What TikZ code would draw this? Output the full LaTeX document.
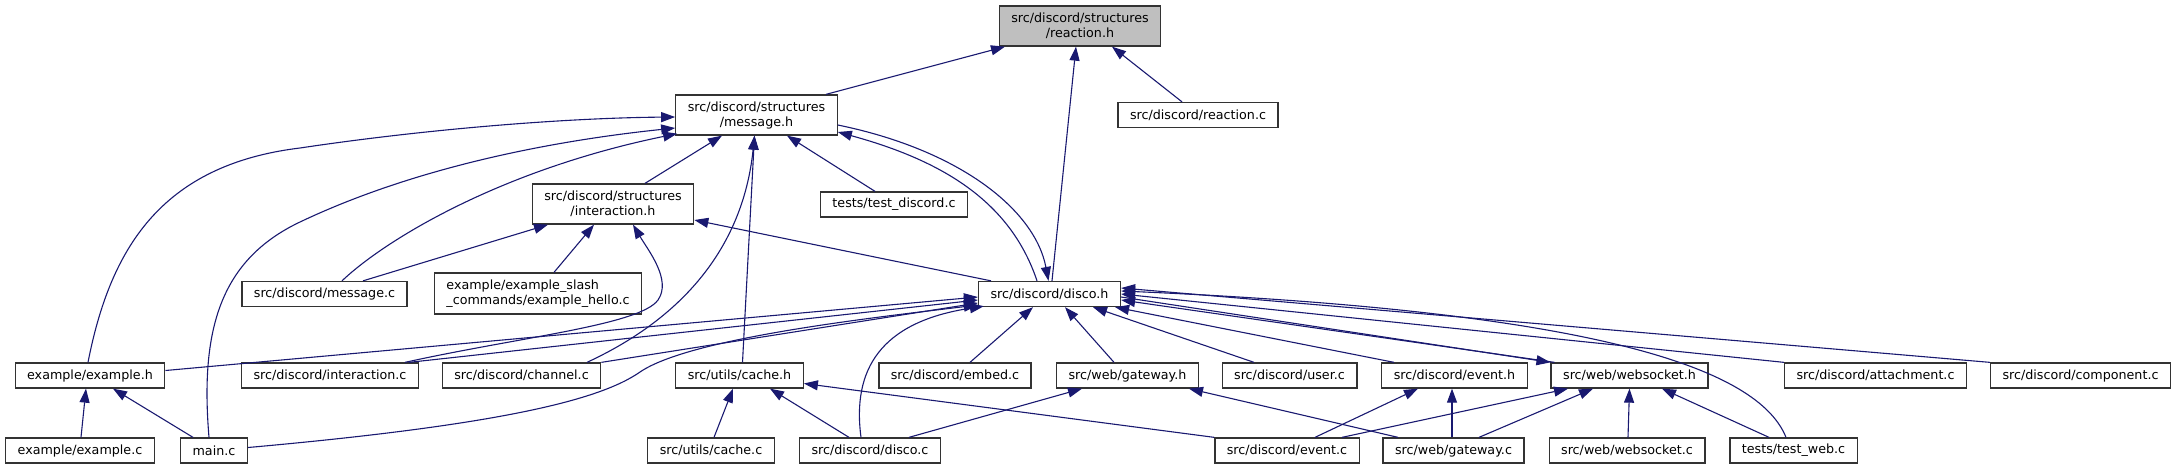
\documentclass[tikz,border=0pt]{standalone}
\usepackage{fontspec}
\setmainfont{DejaVu Sans}
\usetikzlibrary{arrows.meta}
\definecolor{edgeblue}{RGB}{25,25,112}

\begin{document}
\begin{tikzpicture}[
  x=1pt, y=-1pt,
  file/.style={rectangle, draw=black!80, line width=1.3pt, fill=white,
               inner xsep=12pt, inner ysep=0pt, minimum height=25pt,
               font=\fontsize{12.7}{15}\selectfont},
  twoline/.style={minimum height=40pt, align=center},
  root/.style={fill=black!25},
  dep/.style={-{Triangle[length=14pt,width=10pt]}, line width=1.1pt, edgeblue}
]
\useasboundingbox (0,0) rectangle (2176,469);

\node[file, twoline, root] (reach) at (1080,26) {src/discord/structures\\/reaction.h};
\node[file, twoline] (msgh)  at (756.5,115) {src/discord/structures\\/message.h};
\node[file] (reacc) at (1198,115) {src/discord/reaction.c};
\node[file, twoline] (inth)  at (613,204) {src/discord/structures\\/interaction.h};
\node[file] (tdisc) at (894,204.5) {tests/test\_discord.c};
\node[file] (msgc)  at (324.5,294) {src/discord/message.c};
\node[file, minimum height=41pt, align=left] (hello) at (538,293.5) {example/example\_slash\\\_commands/example\_hello.c};
\node[file] (disco) at (1049.5,294) {src/discord/disco.h};

\node[file] (exh)    at (90,375.5)     {example/example.h};
\node[file] (intc)   at (330,375.5)    {src/discord/interaction.c};
\node[file] (chan)   at (521.5,375.5)  {src/discord/channel.c};
\node[file] (cacheh) at (739.5,375.5)  {src/utils/cache.h};
\node[file] (embed)  at (955,375.5)    {src/discord/embed.c};
\node[file] (gwh)    at (1127.5,375.5) {src/web/gateway.h};
\node[file] (user)   at (1289.5,375.5) {src/discord/user.c};
\node[file] (evh)    at (1454.5,375.5) {src/discord/event.h};
\node[file] (wsh)    at (1629.5,375.5) {src/web/websocket.h};
\node[file] (attach) at (1875.5,375.5) {src/discord/attachment.c};
\node[file] (comp)   at (2080.5,375.5) {src/discord/component.c};

\node[file] (exc)    at (80,450.5)     {example/example.c};
\node[file] (mainc)  at (214,450.5)    {main.c};
\node[file] (cachec) at (711,450.5)    {src/utils/cache.c};
\node[file] (discoc) at (870,450.5)    {src/discord/disco.c};
\node[file] (evc)    at (1287,450.5)   {src/discord/event.c};
\node[file] (gwc)    at (1453.5,450.5) {src/web/gateway.c};
\node[file] (wsc)    at (1627,450.5)   {src/web/websocket.c};
\node[file] (tweb)   at (1793.5,450.5) {tests/test\_web.c};

\draw[dep] ([xshift=69.5pt]msgh.north) -- ([xshift=-75pt]reach.south);
\draw[dep] ([xshift=2.5pt]disco.north) -- ([xshift=-4pt]reach.south);
\draw[dep] ([xshift=-16pt]reacc.north) -- ([xshift=32pt]reach.south);

\draw[dep] ([xshift=32pt]inth.north) -- ([xshift=-34.5pt]msgh.south);
\draw[dep] ([xshift=-19pt]tdisc.north) -- ([xshift=30.5pt]msgh.south);
\draw[dep] ([xshift=-2pt]exh.north) .. controls (110,250) and (160,165) .. (300,148)
  .. controls (420,130) and (560,118) .. ([yshift=-2pt]msgh.west);
\draw[dep] ([xshift=-5pt]mainc.north) .. controls (200,330) and (220,260) .. (300,222)
  .. controls (420,165) and (560,140) .. ([yshift=-13pt]msgh.west);
\draw[dep] ([xshift=17.5pt]msgc.north) .. controls (385,240) and (500,170) .. ([xshift=2pt,yshift=2pt]msgh.south west);
\draw[dep] ([xshift=65.5pt]chan.north) .. controls (700,310) and (745,230) .. ([xshift=-2pt]msgh.south);
\draw[dep] ([xshift=3pt]cacheh.north) -- ([xshift=-2pt]msgh.south);
\draw[dep] ([xshift=-12.5pt]disco.north) .. controls (1010,200) and (940,160) .. ([yshift=-17pt]msgh.east);
\draw[dep] ([yshift=-10pt]msgh.east) .. controls (960,150) and (1035,210) .. ([xshift=-1pt]disco.north);

\draw[dep] ([xshift=38.5pt]msgc.north) -- ([xshift=-65pt]inth.south);
\draw[dep] ([xshift=16pt]hello.north) -- ([xshift=-19pt]inth.south);
\draw[dep] ([xshift=75pt]intc.north) .. controls (520,337) and (640,325) .. (658,300)
  .. controls (672,280) and (648,250) .. ([xshift=20pt]inth.south);
\draw[dep] ([xshift=-58.5pt]disco.north) -- ([yshift=-16pt]inth.east);

\draw[dep] ([yshift=5pt]exh.east) -- ([yshift=-3pt]disco.west);
\draw[dep] ([xshift=-10pt]intc.north east) -- ([yshift=-6pt]disco.west);
\draw[dep] (chan.north east) -- ([yshift=-9pt]disco.west);
\draw[dep] ([yshift=3pt]mainc.east) .. controls (500,425) and (600,400) .. (640,372)
  .. controls (690,338) and (870,318) .. ([yshift=-11pt]disco.west);
\draw[dep] ([xshift=-9pt]discoc.north) .. controls (852,370) and (880,322) .. ([xshift=6pt,yshift=1pt]disco.south west);
\draw[dep] ([xshift=15pt]embed.north) -- ([xshift=-16.5pt]disco.south);
\draw[dep] ([xshift=-13.5pt]gwh.north) -- ([xshift=15.5pt]disco.south);
\draw[dep] ([xshift=-35.5pt]user.north) -- ([xshift=43.5pt]disco.south);
\draw[dep] ([xshift=-60.5pt]evh.north) -- ([xshift=-6pt]disco.south east);
\draw[dep] ([xshift=4pt]wsh.north west) -- ([yshift=-6pt]disco.east);
\draw[dep] ([yshift=-3pt]disco.east) -- (wsh.north west);
\draw[dep] (attach.north west) -- (disco.east);
\draw[dep] (comp.north west) -- ([yshift=6pt]disco.east);
\draw[dep] ([xshift=-7.5pt]tweb.north) .. controls (1755,360) and (1560,310) .. ([yshift=3pt]disco.east);

\draw[dep] ([xshift=1pt]exc.north) -- ([xshift=-4pt]exh.south);
\draw[dep] ([xshift=-21pt]mainc.north) -- ([xshift=23pt]exh.south);
\draw[dep] ([xshift=3pt]cachec.north) -- ([xshift=-6.5pt]cacheh.south);
\draw[dep] ([xshift=-21pt]discoc.north) -- ([xshift=30.5pt]cacheh.south);
\draw[dep] (evc.north west) -- ([yshift=-8pt]cacheh.east);
\draw[dep] ([xshift=39pt]discoc.north) -- ([xshift=-45.5pt]gwh.south);
\draw[dep] ([xshift=-55.5pt]gwc.north) -- ([xshift=61.5pt]gwh.south);
\draw[dep] ([xshift=28pt]evc.north) -- ([xshift=-36.5pt]evh.south);
\draw[dep] ([xshift=-1.5pt]gwc.north) -- ([xshift=-2.5pt]evh.south);
\draw[dep] ([xshift=55pt]evc.north) -- ([xshift=-61.5pt]wsh.south);
\draw[dep] ([xshift=25.5pt]gwc.north) -- ([xshift=-36.5pt]wsh.south);
\draw[dep] ([xshift=1pt]wsc.north) -- (wsh.south);
\draw[dep] ([xshift=-24.5pt]tweb.north) -- ([xshift=32.5pt]wsh.south);
\end{tikzpicture}
\end{document}
